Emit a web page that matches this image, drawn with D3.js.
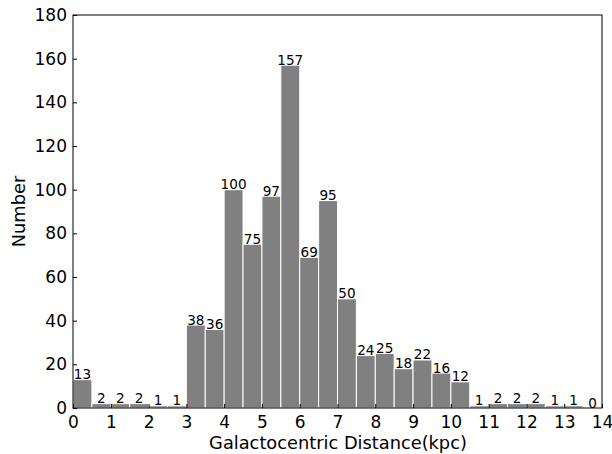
<!DOCTYPE html>
<meta charset="utf-8">
<style>
html, body { margin: 0; background: white; }
svg { display: block; }
.bar { fill: #808080; stroke: #fff; stroke-width: 1; }
</style>
<body>
<script src="https://cdn.jsdelivr.net/npm/d3@7"></script>
<script>

var width = 612,
    height = 454;

// histogram of galactocentric distances, bin width 0.5 kpc
var binStarts = [0, 0.5, 1, 1.5, 2, 2.5, 3, 3.5, 4, 4.5, 5, 5.5, 6, 6.5,
                 7, 7.5, 8, 8.5, 9, 9.5, 10, 10.5, 11, 11.5, 12, 12.5, 13, 13.5];
var counts = [13, 2, 2, 2, 1, 1, 38, 36, 100, 75, 97, 157, 69, 95,
              50, 24, 25, 18, 22, 16, 12, 1, 2, 2, 2, 1, 1, 0];
var binWidth = 0.5;
var xTicks = [0, 1, 2, 3, 4, 5, 6, 7, 8, 9, 10, 11, 12, 13, 14];
var yTicks = [0, 20, 40, 60, 80, 100, 120, 140, 160, 180];

var font = "DejaVu Sans, sans-serif";
var margin = {top: 15, right: 10, bottom: 46, left: 73};
var plotW = 602 - margin.left,
    plotH = 408 - margin.top;

var x = d3.scaleLinear().domain([0, 14]).range([0, plotW]);
var y = d3.scaleLinear().domain([0, 180]).range([plotH, 0]);

var svg = d3.select("body").append("svg")
    .attr("width", width)
    .attr("height", height)
    .style("font-family", font);

var g = svg.append("g")
    .attr("transform", "translate(" + margin.left + "," + margin.top + ")");

var data = binStarts.map(function(s, i) { return {x0: s, n: counts[i]}; });

g.selectAll("rect.bar")
    .data(data)
  .enter().append("rect")
    .attr("class", "bar")
    .attr("x", d => x(d.x0))
    .attr("width", d => x(d.x0 + binWidth) - x(d.x0))
    .attr("y", d => y(d.n))
    .attr("height", d => y(0) - y(d.n));

g.selectAll("text.count")
    .data(data)
  .enter().append("text")
    .attr("class", "count")
    .attr("x", d => x(d.x0 + binWidth / 2))
    .attr("y", d => y(d.n) - 0.5)
    .attr("text-anchor", "middle")
    .attr("font-size", 13.6)
    .attr("fill", "#000")
    .text(d => d.n);

// axes with inward ticks (matplotlib style)
var xAxis = g.append("g")
    .attr("transform", "translate(0," + plotH + ")")
    .call(d3.axisBottom(x).tickValues(xTicks).tickFormat(d3.format("d"))
        .tickSizeInner(-4).tickSizeOuter(0).tickPadding(7));

var yAxis = g.append("g")
    .call(d3.axisLeft(y).tickValues(yTicks).tickSizeInner(-4).tickSizeOuter(0).tickPadding(6));

[xAxis, yAxis].forEach(function(a) {
    a.attr("font-family", font).attr("font-size", 17);
    a.select(".domain").remove();
    a.selectAll(".tick line").attr("stroke", "#000");
    a.selectAll(".tick text").attr("fill", "#000");
});
xAxis.selectAll(".tick text").attr("dy", "0.74em");

// frame
g.append("rect")
    .attr("width", plotW)
    .attr("height", plotH)
    .attr("fill", "none")
    .attr("stroke", "#000")
    .attr("stroke-width", 1);

svg.append("text")
    .attr("x", margin.left + plotW / 2 + 0.5)
    .attr("y", 449)
    .attr("text-anchor", "middle")
    .attr("font-size", 17.8)
    .text("Galactocentric Distance(kpc)");

svg.append("text")
    .attr("transform", "translate(25," + (margin.top + plotH / 2) + ") rotate(-90)")
    .attr("text-anchor", "middle")
    .attr("font-size", 17.8)
    .text("Number");

</script>
